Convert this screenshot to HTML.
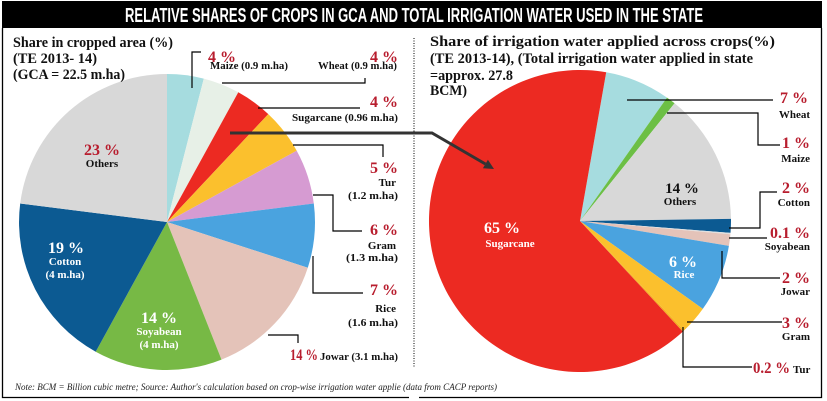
<!DOCTYPE html>
<html><head><meta charset="utf-8">
<style>
html,body{margin:0;padding:0;background:#fff;}
svg{display:block;}
.t{font-family:"Liberation Serif",serif;font-weight:bold;font-size:15px;fill:#111;}
.p{font-family:"Liberation Serif",serif;font-weight:bold;font-size:16px;fill:#b81d2e;}
.n{font-family:"Liberation Serif",serif;font-weight:bold;font-size:11px;fill:#111;}
.w{font-family:"Liberation Serif",serif;font-weight:bold;fill:#fff;}
.l{fill:none;stroke:#000;stroke-width:1.2;}
</style></head><body>
<svg width="827" height="401" viewBox="0 0 827 401" xmlns="http://www.w3.org/2000/svg">
<rect width="827" height="401" fill="#fff"/>
<rect x="2" y="1" width="820" height="27" fill="#000"/>
<text x="125" y="22" textLength="578" lengthAdjust="spacingAndGlyphs" font-family="Liberation Sans Narrow, Liberation Sans, sans-serif" font-weight="bold" font-size="20.5" fill="#fff">RELATIVE SHARES OF CROPS IN GCA AND TOTAL IRRIGATION WATER USED IN THE STATE</text>
<path d="M2.5 28 V397.5 H409 M419 397.5 H821.5 V28" fill="none" stroke="#000" stroke-width="1.3"/>
<line x1="414" y1="38" x2="414" y2="368" stroke="#000" stroke-width="1" stroke-dasharray="1 1.5"/>

<!-- Left pie -->
<g>
<path d="M167 222 L167 74 A148 148 0 0 1 203.8 78.6 Z" fill="#a6dcdf"/>
<path d="M167 222 L203.8 78.6 A148 148 0 0 1 238.3 92.3 Z" fill="#e7f0e7"/>
<path d="M167 222 L238.3 92.3 A148 148 0 0 1 268.3 114.1 Z" fill="#ec2a22"/>
<path d="M167 222 L268.3 114.1 A148 148 0 0 1 296.7 150.7 Z" fill="#fbc02d"/>
<path d="M167 222 L296.7 150.7 A148 148 0 0 1 313.8 203.5 Z" fill="#d69bd2"/>
<path d="M167 222 L313.8 203.5 A148 148 0 0 1 307.8 267.7 Z" fill="#4aa3df"/>
<path d="M167 222 L307.8 267.7 A148 148 0 0 1 221.5 359.6 Z" fill="#e4c3b9"/>
<path d="M167 222 L221.5 359.6 A148 148 0 0 1 95.7 351.7 Z" fill="#77b945"/>
<path d="M167 222 L95.7 351.7 A148 148 0 0 1 20.2 203.5 Z" fill="#0c5a92"/>
<path d="M167 222 L20.2 203.5 A148 148 0 0 1 167 74 Z" fill="#d8d8d8"/>
</g>

<!-- Right pie -->
<g>
<path d="M580 221 L606.2 72.3 A151 151 0 0 1 667.0 97.6 Z" fill="#a6dcdf"/>
<path d="M580 221 L667.0 97.6 A151 151 0 0 1 674.6 103.3 Z" fill="#6cbf45"/>
<path d="M580 221 L674.6 103.3 A151 151 0 0 1 731.0 218.9 Z" fill="#d8d8d8"/>
<path d="M580 221 L731.0 218.9 A151 151 0 0 1 730.5 232.9 Z" fill="#0c5a92"/>
<path d="M580 221 L730.5 232.9 A151 151 0 0 1 730.4 234.2 Z" fill="#e0e0e0"/>
<path d="M580 221 L730.4 234.2 A151 151 0 0 1 728.9 245.9 Z" fill="#e4c3b9"/>
<path d="M580 221 L728.9 245.9 A151 151 0 0 1 702.8 308.9 Z" fill="#4aa3df"/>
<path d="M580 221 L702.8 308.9 A151 151 0 0 1 684.1 330.4 Z" fill="#fbc02d"/>
<path d="M580 221 L684.1 330.4 A151 151 0 0 1 682.8 331.6 Z" fill="#f5b020"/>
<path d="M580 221 L682.8 331.6 A151 151 0 1 1 606.2 72.3 Z" fill="#ec2a22"/>
</g>

<!-- Left leaders -->
<polyline class="l" points="192,88 192,52 201,52"/>
<polyline class="l" points="222,83 365,83 365,78"/>
<polyline class="l" points="258,108 360,108"/>
<polyline class="l" points="293,145 383,145 383,157"/>
<polyline class="l" points="313,195 333,195 333,231 362,231"/>
<polyline class="l" points="313,256 313,293 363,293"/>
<polyline class="l" points="268,335 298,335 298,343"/>

<!-- Right leaders -->
<polyline class="l" points="627,100 773,100"/>
<polyline class="l" points="667,113 758,113 758,145 780,145"/>
<polyline class="l" points="729,228 760,228 760,192 777,192"/>
<polyline class="l" points="729,238 767,238"/>
<polyline class="l" points="722,251 722,278 780,278"/>
<polyline class="l" points="687,322 782,322"/>
<polyline class="l" points="683,327 683,367 752,367"/>

<!-- Arrow -->
<polyline points="230,133 432,133 485.4,164" fill="none" stroke="#333" stroke-width="3"/>
<polygon points="494,169 482.9,168.3 487.9,159.7" fill="#333"/>

<!-- Titles -->
<text class="t" x="13" y="47" textLength="160" lengthAdjust="spacingAndGlyphs">Share in cropped area (%)</text>
<text class="t" x="13" y="63" textLength="84" lengthAdjust="spacingAndGlyphs">(TE 2013- 14)</text>
<text class="t" x="13" y="79" textLength="112" lengthAdjust="spacingAndGlyphs">(GCA = 22.5 m.ha)</text>

<text class="t" x="430" y="46" textLength="345" lengthAdjust="spacingAndGlyphs">Share of irrigation water applied across crops(%)</text>
<text class="t" x="430" y="63" textLength="323" lengthAdjust="spacingAndGlyphs">(TE 2013-14), (Total irrigation water applied in state</text>
<text class="t" x="430" y="80" textLength="83" lengthAdjust="spacingAndGlyphs">=approx. 27.8</text>
<text class="t" x="430" y="95" textLength="37" lengthAdjust="spacingAndGlyphs">BCM)</text>

<!-- Left labels -->
<text class="p" x="208" y="62">4 %</text>
<text class="n" x="210" y="69" font-size="10" textLength="78" lengthAdjust="spacingAndGlyphs">Maize (0.9 m.ha)</text>
<text class="p" x="398" y="62" text-anchor="end">4 %</text>
<text class="n" x="397" y="69" font-size="10" text-anchor="end" textLength="79" lengthAdjust="spacingAndGlyphs">Wheat (0.9 m.ha)</text>
<text class="p" x="398" y="107" text-anchor="end">4 %</text>
<text class="n" x="398" y="121" font-size="10.5" text-anchor="end" textLength="106" lengthAdjust="spacingAndGlyphs">Sugarcane (0.96 m.ha)</text>
<text class="p" x="398" y="173" text-anchor="end">5 %</text>
<text class="n" x="396" y="186" text-anchor="end">Tur</text>
<text class="n" x="398" y="199" text-anchor="end" textLength="50" lengthAdjust="spacingAndGlyphs">(1.2 m.ha)</text>
<text class="p" x="398" y="235" text-anchor="end">6 %</text>
<text class="n" x="396" y="249" text-anchor="end">Gram</text>
<text class="n" x="398" y="261" text-anchor="end" textLength="52" lengthAdjust="spacingAndGlyphs">(1.3 m.ha)</text>
<text class="p" x="398" y="295" text-anchor="end">7 %</text>
<text class="n" x="396" y="312" text-anchor="end">Rice</text>
<text class="n" x="398" y="326" text-anchor="end" textLength="50" lengthAdjust="spacingAndGlyphs">(1.6 m.ha)</text>
<text class="p" x="290" y="360" textLength="28" lengthAdjust="spacingAndGlyphs">14 %</text>
<text class="n" x="320" y="360" font-size="11.5" textLength="78" lengthAdjust="spacingAndGlyphs">Jowar (3.1 m.ha)</text>

<text class="p" x="102" y="155" text-anchor="middle">23 %</text>
<text class="n" x="102" y="167" text-anchor="middle">Others</text>
<text class="w" x="66" y="253" font-size="16" text-anchor="middle">19 %</text>
<text class="w" x="65" y="265" font-size="11" text-anchor="middle">Cotton</text>
<text class="w" x="65" y="278" font-size="11" text-anchor="middle">(4 m.ha)</text>
<text class="w" x="159" y="323" font-size="16" text-anchor="middle">14 %</text>
<text class="w" x="159" y="335" font-size="11" text-anchor="middle">Soyabean</text>
<text class="w" x="159" y="348" font-size="11" text-anchor="middle">(4 m.ha)</text>

<!-- Right labels -->
<text class="p" x="808" y="103" text-anchor="end">7 %</text>
<text class="n" x="810" y="118" text-anchor="end">Wheat</text>
<text class="p" x="810" y="148" text-anchor="end">1 %</text>
<text class="n" x="810" y="162" text-anchor="end">Maize</text>
<text class="t" x="682" y="193" font-size="16" text-anchor="middle">14 %</text>
<text class="n" x="680" y="205" text-anchor="middle">Others</text>
<text class="p" x="810" y="193" text-anchor="end">2 %</text>
<text class="n" x="810" y="206" text-anchor="end">Cotton</text>
<text class="p" x="810" y="238" text-anchor="end">0.1 %</text>
<text class="n" x="810" y="250" text-anchor="end">Soyabean</text>
<text class="w" x="502" y="233" font-size="16" text-anchor="middle">65 %</text>
<text class="w" x="510" y="247" font-size="11" text-anchor="middle">Sugarcane</text>
<text class="w" x="683" y="267" font-size="16" text-anchor="middle">6 %</text>
<text class="w" x="684" y="278" font-size="11" text-anchor="middle">Rice</text>
<text class="p" x="810" y="283" text-anchor="end">2 %</text>
<text class="n" x="810" y="295" text-anchor="end">Jowar</text>
<text class="p" x="810" y="328" text-anchor="end">3 %</text>
<text class="n" x="810" y="340" text-anchor="end">Gram</text>
<text class="p" x="753" y="373" textLength="37" lengthAdjust="spacingAndGlyphs">0.2 %</text>
<text class="n" x="793" y="373">Tur</text>

<!-- Note -->
<text x="15" y="390" font-family="Liberation Serif, serif" font-style="italic" font-size="9.5" fill="#222" textLength="482" lengthAdjust="spacingAndGlyphs">Note: BCM = Billion cubic metre; Source: Author's calculation based on crop-wise irrigation water applie (data from CACP reports)</text>
</svg>
</body></html>
